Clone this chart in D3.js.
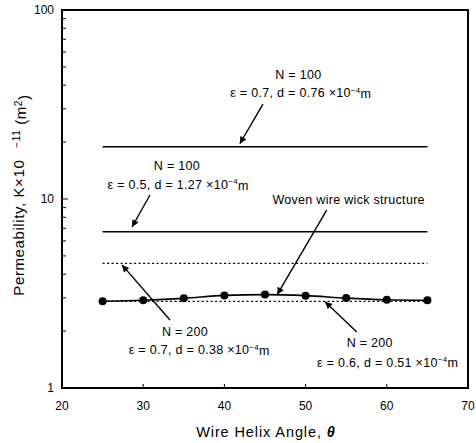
<!DOCTYPE html>
<html><head><meta charset="utf-8">
<script src="https://cdn.jsdelivr.net/npm/d3@7"></script>
<style>
body{margin:0;background:#fff;}
text{font-family:"Liberation Sans",Arial,sans-serif;fill:#000;}
</style></head>
<body><svg id="c" width="476" height="443"></svg>
<script>
// ---- data ----
const angles = [25, 30, 35, 40, 45, 50, 55, 60, 65];
const wovenK = [2.875, 2.91, 2.98, 3.09, 3.12, 3.08, 2.99, 2.93, 2.91];
const lineRange = [25, 65];
const lineN100e07 = 18.9;   // solid
const lineN100e05 = 6.7;    // solid
const lineN200e07 = 4.57;   // dotted
const lineN200e06 = 2.87;   // dotted
const xTicks = [20, 30, 40, 50, 60, 70];
const yTicks = [1, 10, 100];
// annotations in data units: [angle, K]
const annoText = [
  {lines:[["N = 100"],["ε = 0.7, d = 0.76 ×10","−4","m"]], at:[[49.1,45.3],[49.4,36.4]]},
  {lines:[["N = 100"],["ε = 0.5, d = 1.27 ×10","−4","m"]], at:[[34.16,15.1],[34.3,11.9]]},
  {lines:[["Woven wire wick structure"]], at:[[55.3,9.88]]},
  {lines:[["N = 200"],["ε = 0.7, d = 0.38 ×10","−4","m"]], at:[[35.15,1.98],[36.9,1.59]]},
  {lines:[["N = 200"],["ε = 0.6, d = 0.51 ×10","−4","m"]], at:[[57.9,1.73],[60.1,1.37]]}
];
const arrows = [
  [[44.75,31.8],[41.9,19.6]],
  [[30.84,10.5],[28.62,7.11]],
  [[52.6,8.74],[46.5,3.12]],
  [[33.3,2.29],[27.39,4.48]],
  [[56.3,1.98],[52.4,2.86]]
];

const svg = d3.select("#c");
const m = {l:62, r:8, t:10, b:55};
const W = 476, H = 443;
const x = d3.scaleLinear().domain([20,70]).range([m.l, W-m.r]);
const y = d3.scaleLog().domain([1,100]).range([H-m.b, m.t]);

svg.append("defs").append("marker").attr("id","ah")
  .attr("viewBox","0 0 10 10").attr("refX",10).attr("refY",5)
  .attr("markerWidth",9).attr("markerHeight",7).attr("markerUnits","userSpaceOnUse")
  .attr("orient","auto")
  .append("path").attr("d","M0,0 L10,5 L0,10 Z").attr("fill","#000");

// y minor ticks (inside)
const minors = [];
for (const d of [1,10]) for (let k=2;k<=9;k++) minors.push(d*k);
svg.append("g").selectAll("line").data(minors).join("line")
  .attr("x1",x(20)).attr("x2",x(20)+4).attr("y1",d=>y(d)).attr("y2",d=>y(d))
  .attr("stroke","#000").attr("stroke-width",1);
svg.append("g").selectAll("line").data(yTicks).join("line")
  .attr("x1",x(20)).attr("x2",x(20)+6).attr("y1",d=>y(d)).attr("y2",d=>y(d))
  .attr("stroke","#000").attr("stroke-width",1);
svg.append("g").selectAll("line").data(xTicks).join("line")
  .attr("x1",d=>x(d)).attr("x2",d=>x(d)).attr("y1",y(1)).attr("y2",y(1)-4)
  .attr("stroke","#000").attr("stroke-width",1);

// frame
svg.append("rect").attr("x",x(20)).attr("y",y(100)).attr("width",x(70)-x(20)).attr("height",y(1)-y(100))
  .attr("fill","none").attr("stroke","#000").attr("stroke-width",2);

// tick labels
svg.append("g").selectAll("text").data(yTicks).join("text")
  .attr("x",x(20)-8).attr("y",d=>y(d)).attr("dy","0.35em").attr("text-anchor","end")
  .attr("font-size",12).text(d=>d);
svg.append("g").selectAll("text").data(xTicks).join("text")
  .attr("x",d=>x(d)).attr("y",y(1)+22).attr("text-anchor","middle")
  .attr("font-size",12).text(d=>d);

// horizontal lines
const hl = [
  {v:lineN100e07, dash:null, w:1.5},
  {v:lineN100e05, dash:null, w:1.5},
  {v:lineN200e07, dash:"2,2.5", w:1.3},
  {v:lineN200e06, dash:"2,2.5", w:1.3}
];
svg.append("g").selectAll("line").data(hl).join("line")
  .attr("x1",x(lineRange[0])).attr("x2",x(lineRange[1]))
  .attr("y1",d=>y(d.v)).attr("y2",d=>y(d.v))
  .attr("stroke","#000").attr("stroke-width",d=>d.w)
  .attr("stroke-dasharray",d=>d.dash);

// woven series
const pts = angles.map((a,i)=>[a,wovenK[i]]);
svg.append("path").datum(pts)
  .attr("d",d3.line().x(d=>x(d[0])).y(d=>y(d[1])).curve(d3.curveMonotoneX))
  .attr("fill","none").attr("stroke","#000").attr("stroke-width",1.6);
svg.append("g").selectAll("circle").data(pts).join("circle")
  .attr("cx",d=>x(d[0])).attr("cy",d=>y(d[1])).attr("r",4).attr("fill","#000");

// arrows
svg.append("g").selectAll("line").data(arrows).join("line")
  .attr("x1",d=>x(d[0][0])).attr("y1",d=>y(d[0][1]))
  .attr("x2",d=>x(d[1][0])).attr("y2",d=>y(d[1][1]))
  .attr("stroke","#000").attr("stroke-width",1.4).attr("marker-end","url(#ah)");

// annotation text
annoText.forEach(a=>{
  a.lines.forEach((ln,i)=>{
    const t = svg.append("text").attr("x",x(a.at[i][0])).attr("y",y(a.at[i][1]))
      .attr("dy","0.35em").attr("text-anchor","middle").attr("font-size",12.5)
      .attr("letter-spacing",0.3);
    t.append("tspan").text(ln[0]);
    if (ln.length>1){
      t.append("tspan").attr("font-size",8).attr("dy","-0.6em").text(ln[1]);
      t.append("tspan").attr("dy","0.45em").text(ln[2]);
    }
  });
});

// axis titles
const xt = svg.append("text").attr("x",266).attr("y",437).attr("text-anchor","middle")
  .attr("font-size",14.5).attr("letter-spacing",0.9);
xt.append("tspan").text("Wire Helix Angle,  ");
xt.append("tspan").attr("font-weight","bold").attr("font-style","italic").text("θ");

const yt = svg.append("text").attr("transform","translate(24,195) rotate(-90)")
  .attr("text-anchor","middle").attr("font-size",15).attr("letter-spacing",0.6);
yt.append("tspan").text("Permeability, K×10");
yt.append("tspan").attr("dx",12).attr("dy","-0.45em").attr("font-size",10).text("−11");
yt.append("tspan").attr("dy","0.45em").text(" (m");
yt.append("tspan").attr("dy","-0.45em").attr("font-size",10).text("2");
yt.append("tspan").attr("dy","0.45em").text(")");
</script></body></html>
